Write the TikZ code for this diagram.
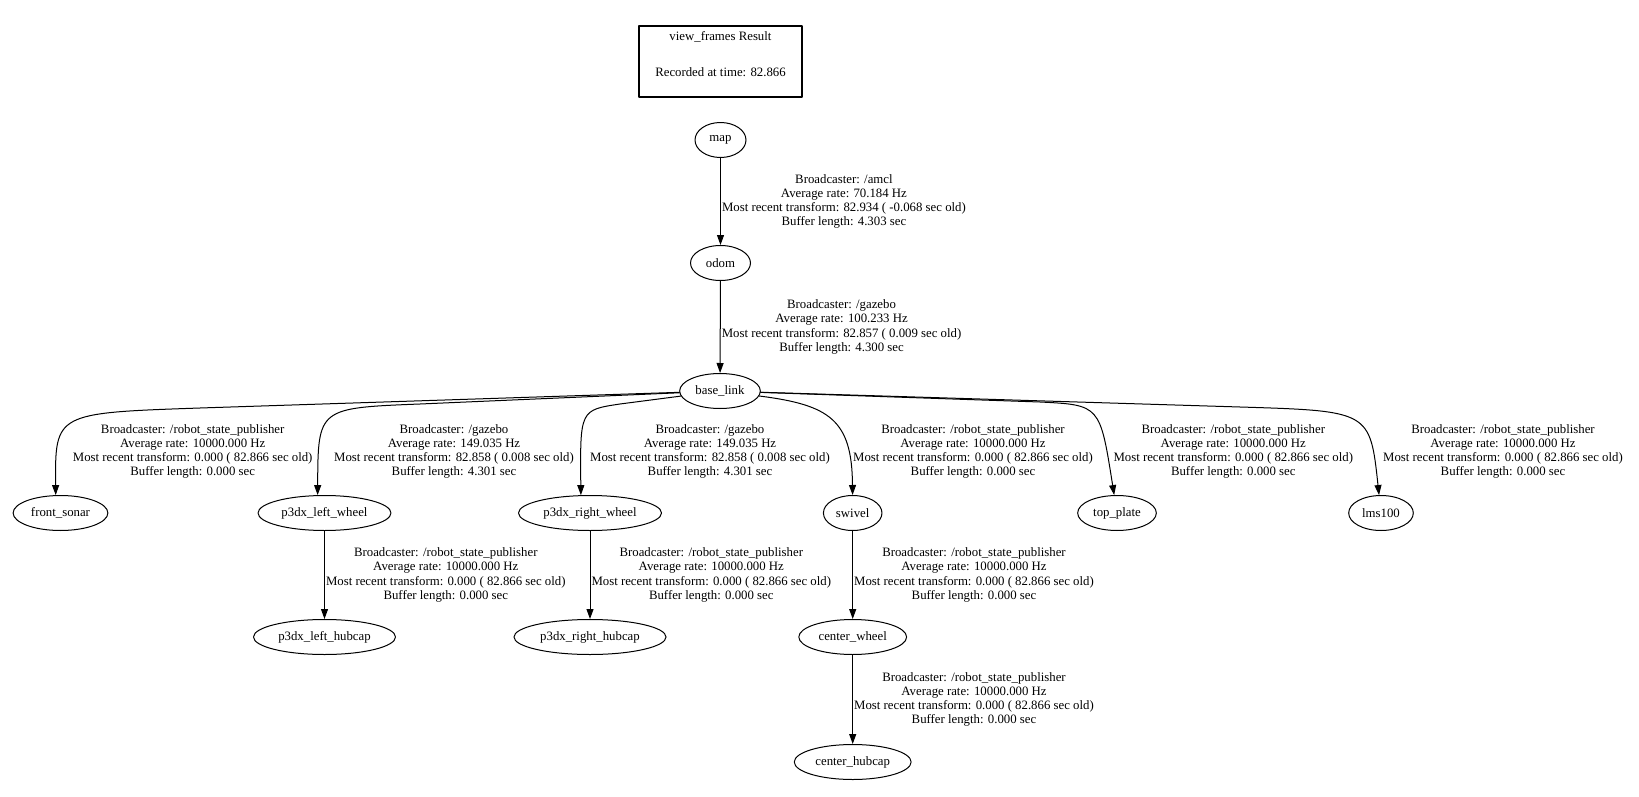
\documentclass[tikz,border=0pt]{standalone}
\usepackage{fontspec}
\setmainfont{Liberation Serif}
\usetikzlibrary{arrows.meta}
\usetikzlibrary{shapes.geometric}

\tikzset{
  tfnode/.style={ellipse, draw, line width=1pt, minimum width=51pt, minimum height=35pt, inner xsep=4pt, inner ysep=2pt},
  tfinfo/.style={align=center, inner sep=1pt},
  resultbox/.style={rectangle, draw, line width=2pt, minimum width=163pt, align=center, inner ysep=6pt, text depth=15pt}
}

\begin{document}
\begin{tikzpicture}[line cap=round,line join=round,>={Triangle[length=10pt,width=7pt]},x=1pt,y=-1pt,font=\fontsize{12.8}{14.2}\selectfont]
\useasboundingbox (0,0) rectangle (1639,797);
\node[resultbox, anchor=north] (result) at (720.5,24.7) {view\_frames Result\\[21.1pt]Recorded at time: 82.866};
\node[tfnode] (map) at (720.5,140) {map};
\node[tfnode, minimum width=60pt] (odom) at (720.5,263) {odom};
\node[tfnode] (base) at (720,391) {base\_link};
\node[tfnode] (sonar) at (60.5,513) {front\_sonar};
\node[tfnode] (lwheel) at (324.5,513) {p3dx\_left\_wheel};
\node[tfnode] (rwheel) at (590,513) {p3dx\_right\_wheel};
\node[tfnode] (swivel) at (852.7,513) {swivel};
\node[tfnode] (plate) at (1117,513) {top\_plate};
\node[tfnode] (lms) at (1381,513) {lms100};
\node[tfnode] (lhub) at (324.5,637) {p3dx\_left\_hubcap};
\node[tfnode] (rhub) at (590,637) {p3dx\_right\_hubcap};
\node[tfnode] (cwheel) at (852.7,637) {center\_wheel};
\node[tfnode] (chub) at (852.7,762) {center\_hubcap};
% straight edges
\draw [->,line width=1pt] (map) -- node[tfinfo, anchor=west] (imap) {Broadcaster: /amcl\\Average rate: 70.184 Hz\\Most recent transform: 82.934 ( -0.068 sec old)\\Buffer length: 4.303 sec} (odom);
\draw [->,line width=1pt] (odom) -- node[tfinfo, anchor=west] (iodom) {Broadcaster: /gazebo\\Average rate: 100.233 Hz\\Most recent transform: 82.857 ( 0.009 sec old)\\Buffer length: 4.300 sec} (base);
\draw [->,line width=1pt] (lwheel) -- node[tfinfo, anchor=west] (ilhub) {Broadcaster: /robot\_state\_publisher\\Average rate: 10000.000 Hz\\Most recent transform: 0.000 ( 82.866 sec old)\\Buffer length: 0.000 sec} (lhub);
\draw [->,line width=1pt] (rwheel) -- node[tfinfo, anchor=west] (irhub) {Broadcaster: /robot\_state\_publisher\\Average rate: 10000.000 Hz\\Most recent transform: 0.000 ( 82.866 sec old)\\Buffer length: 0.000 sec} (rhub);
\draw [->,line width=1pt] (swivel) -- node[tfinfo, anchor=west] (icwheel) {Broadcaster: /robot\_state\_publisher\\Average rate: 10000.000 Hz\\Most recent transform: 0.000 ( 82.866 sec old)\\Buffer length: 0.000 sec} (cwheel);
\draw [->,line width=1pt] (cwheel) -- node[tfinfo, anchor=west] (ichub) {Broadcaster: /robot\_state\_publisher\\Average rate: 10000.000 Hz\\Most recent transform: 0.000 ( 82.866 sec old)\\Buffer length: 0.000 sec} (chub);
% bends of the edges out of base_link
\coordinate (jsonar) at (200,408);
\coordinate (ksonar) at (55,413);
\coordinate (jlwheel) at (420,404);
\coordinate (klwheel) at (318,408);
\coordinate (jrwheel) at (620,404);
\coordinate (krwheel) at (580,410);
\coordinate (jplate) at (1040,402);
\coordinate (kplate) at (1100,405);
\coordinate (jlms) at (1240,407);
\coordinate (klms) at (1370,411);
\draw [->,line width=1pt] (base) -- (jsonar) .. controls (ksonar) and (ksonar) .. (sonar.105);
\draw [->,line width=1pt] (base) -- (jlwheel) .. controls (klwheel) and (klwheel) .. (lwheel.111);
\draw [->,line width=1pt] (base) -- (jrwheel) .. controls (krwheel) and (krwheel) .. (rwheel.117);
\draw [->,line width=1pt] (base) .. controls (830,405) and (852,420) .. (swivel);
\draw [->,line width=1pt] (base) -- (jplate) .. controls (kplate) and (kplate) .. (plate);
\draw [->,line width=1pt] (base) -- (jlms) .. controls (klms) and (klms) .. (lms);
\node[tfinfo] (isonar) at (192.7,451.5) {Broadcaster: /robot\_state\_publisher\\Average rate: 10000.000 Hz\\Most recent transform: 0.000 ( 82.866 sec old)\\Buffer length: 0.000 sec};
\node[tfinfo] (ilwheel) at (454,451.5) {Broadcaster: /gazebo\\Average rate: 149.035 Hz\\Most recent transform: 82.858 ( 0.008 sec old)\\Buffer length: 4.301 sec};
\node[tfinfo] (irwheel) at (710,451.5) {Broadcaster: /gazebo\\Average rate: 149.035 Hz\\Most recent transform: 82.858 ( 0.008 sec old)\\Buffer length: 4.301 sec};
\node[tfinfo] (iswivel) at (973,451.5) {Broadcaster: /robot\_state\_publisher\\Average rate: 10000.000 Hz\\Most recent transform: 0.000 ( 82.866 sec old)\\Buffer length: 0.000 sec};
\node[tfinfo] (iplate) at (1233.3,451.5) {Broadcaster: /robot\_state\_publisher\\Average rate: 10000.000 Hz\\Most recent transform: 0.000 ( 82.866 sec old)\\Buffer length: 0.000 sec};
\node[tfinfo] (ilms) at (1503,451.5) {Broadcaster: /robot\_state\_publisher\\Average rate: 10000.000 Hz\\Most recent transform: 0.000 ( 82.866 sec old)\\Buffer length: 0.000 sec};
\end{tikzpicture}
\end{document}
